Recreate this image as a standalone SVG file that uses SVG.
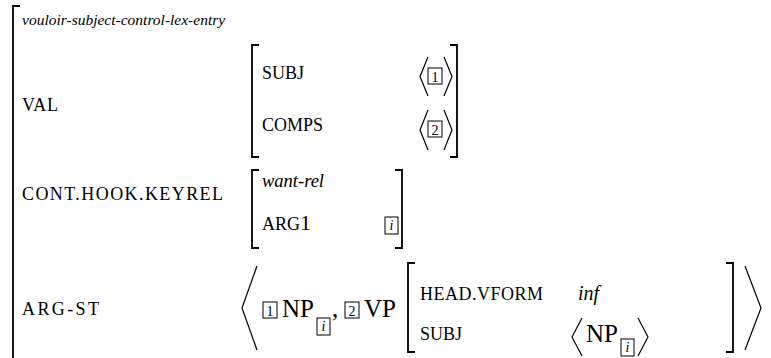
<svg xmlns="http://www.w3.org/2000/svg" width="771" height="358" viewBox="0 0 771 358">
<style>
.sc{font-size:18px}
.it{font-style:italic}
.big{font-size:25px}
.br{fill:none;stroke:#000;stroke-width:1.8}
.ang{fill:none;stroke:#000;stroke-width:1.2}
.box{fill:none;stroke:#000;stroke-width:1}
.num{font-size:14px}
</style>
<g font-family="'Liberation Serif', 'DejaVu Serif', serif" fill="#000">
<g id="outer">
<path class="br" d="M20,6 H13 V358"/>
<text x="22" y="25" class="it" font-size="15.5">vouloir-subject-control-lex-entry</text>
</g>
<g id="val">
<text x="22" y="111" class="sc" textLength="36" lengthAdjust="spacing">VAL</text>
<path class="br" d="M259,45 H252 V157 H259"/>
<path class="br" d="M450,45 H457 V157 H450"/>
<text x="262" y="79" class="sc" font-size="17.5">SUBJ</text>
<path class="ang" d="M428,57 L420,76.5 L428,96"/>
<rect class="box" x="428" y="68" width="14" height="16"/>
<text x="435" y="82" class="num" text-anchor="middle">1</text>
<path class="ang" d="M444,57 L452,76.5 L444,96"/>
<text x="262" y="131" class="sc" textLength="61" lengthAdjust="spacing">COMPS</text>
<path class="ang" d="M428,110 L420,130 L428,150"/>
<rect class="box" x="428" y="121" width="14" height="16"/>
<text x="435" y="135" class="num" text-anchor="middle">2</text>
<path class="ang" d="M444,110 L452,130 L444,150"/>
</g>
<g id="cont">
<text x="22" y="200" class="sc" textLength="201" lengthAdjust="spacing">CONT.HOOK.KEYREL</text>
<path class="br" d="M259,170 H252 V248 H259"/>
<path class="br" d="M395,170 H402 V248 H395"/>
<text x="262" y="187" class="it" font-size="18.5">want-rel</text>
<text x="262" y="230" class="sc">ARG<tspan font-size="22px">1</tspan></text>
<rect class="box" x="385" y="217" width="13" height="17"/>
<text x="391.5" y="230" class="num it" text-anchor="middle">i</text>
</g>
<g id="argst">
<text x="22" y="315" class="sc" font-size="19" textLength="77" lengthAdjust="spacing">ARG-ST</text>
<path class="ang" d="M257,266 L242,308 L257,350"/>
<rect class="box" x="263" y="302" width="14" height="16"/>
<text x="270" y="316" class="num" text-anchor="middle">1</text>
<text x="282" y="317" class="big">NP</text>
<rect class="box" x="317" y="318" width="13" height="17"/>
<text x="323.5" y="331" class="num it" text-anchor="middle">i</text>
<text x="332" y="317" class="big">,</text>
<rect class="box" x="345" y="302" width="14" height="16"/>
<text x="352" y="316" class="num" text-anchor="middle">2</text>
<text x="364" y="317" class="big" font-size="26">VP</text>
<path class="br" d="M415,263 H408 V352 H415"/>
<text x="420" y="300" class="sc" textLength="123" lengthAdjust="spacing">HEAD.VFORM</text>
<text x="578" y="300" class="it" font-size="20">inf</text>
<text x="420" y="340" class="sc" font-size="17.5">SUBJ</text>
<path class="ang" d="M582,318 L572,337 L582,356"/>
<text x="586" y="342" class="big">NP</text>
<rect class="box" x="621" y="339" width="13" height="17"/>
<text x="627.5" y="352" class="num it" text-anchor="middle">i</text>
<path class="ang" d="M638,318 L648,337 L638,356"/>
<path class="br" d="M726,263 H733 V352 H726"/>
<path class="ang" d="M745,266 L761,308 L745,350"/>
</g>
</g>
</svg>
